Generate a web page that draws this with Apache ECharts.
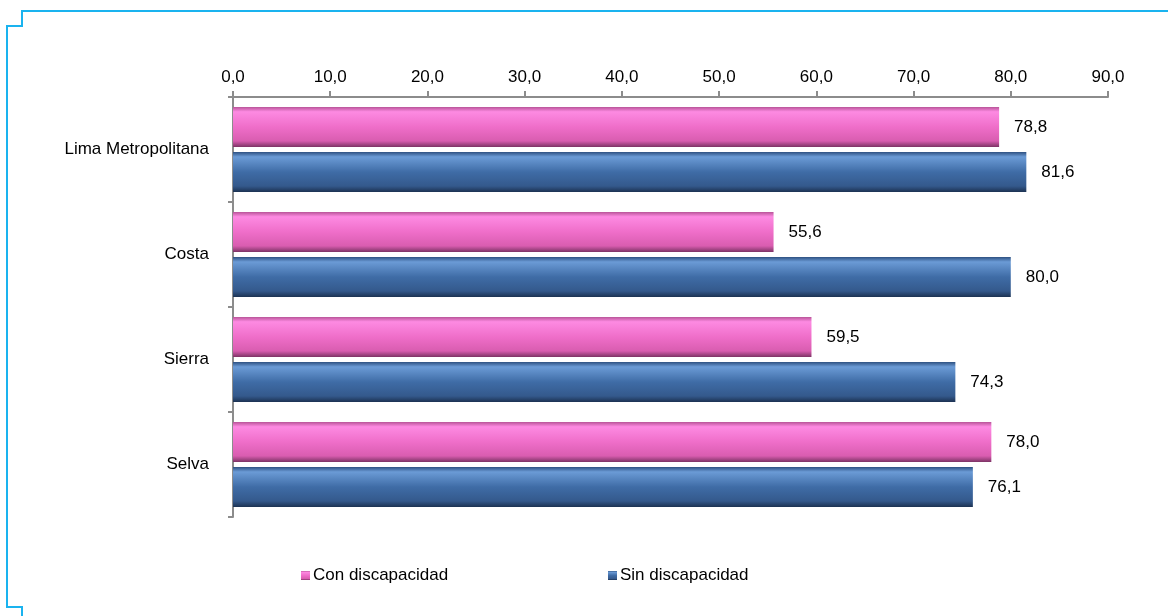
<!DOCTYPE html>
<html>
<head>
<meta charset="UTF-8">
<title>discapacidad_region</title>
<script src="https://cdn.jsdelivr.net/npm/echarts@6/dist/echarts.min.js"></script>
<style>
  html, body { margin: 0; padding: 0; background: #fff; }
  #main { width: 1168px; height: 616px; }
</style>
</head>
<body>
<div id="main"></div>
<script>
var regiones = ['Lima Metropolitana', 'Costa', 'Sierra', 'Selva'];
var conDiscapacidad = [78.8, 55.6, 59.5, 78.0];
var sinDiscapacidad = [81.6, 80.0, 74.3, 76.1];
var series1 = 'Con discapacidad';
var series2 = 'Sin discapacidad';

var fuente = "'Liberation Sans', Arial, sans-serif";
var tam = 17;

function coma(v) { return Number(v).toFixed(1).replace('.', ','); }

// degradado vertical para imitar el relieve de las barras
function relieve(c) {
  return new echarts.graphic.LinearGradient(0, 0, 0, 1, [
    { offset: 0, color: c[0] },
    { offset: 0.12, color: c[1] },
    { offset: 0.5, color: c[2] },
    { offset: 0.85, color: c[3] },
    { offset: 1, color: c[4] }
  ]);
}
var rosa = ['#b85498', '#fd8ae2', '#ef6ec9', '#d95db0', '#7e3466'];
var azul = ['#2f5283', '#6b9bd6', '#3f6ca6', '#34598c', '#1c3252'];

var myChart = echarts.init(document.getElementById('main'));
var option = {
  animation: false,
  textStyle: { fontFamily: fuente },
  grid: { left: 233, right: 60, top: 97, bottom: 99 },
  legend: [
    {
      data: [series1], left: 296, top: 562,
      icon: 'rect', itemWidth: 9, itemHeight: 9, itemGap: 3,
      textStyle: { fontFamily: fuente, fontSize: tam, color: '#000', padding: [0, 0, 0, -2] }
    },
    {
      data: [series2], left: 603, top: 562,
      icon: 'rect', itemWidth: 9, itemHeight: 9, itemGap: 3,
      textStyle: { fontFamily: fuente, fontSize: tam, color: '#000', padding: [0, 0, 0, -2] }
    }
  ],
  xAxis: {
    type: 'value', position: 'top',
    min: 0, max: 90, interval: 10,
    axisLine: { show: true, lineStyle: { color: '#8c8c8c', width: 2 } },
    axisTick: { show: true, length: 6, lineStyle: { color: '#8c8c8c', width: 2 } },
    axisLabel: { formatter: coma, fontFamily: fuente, fontSize: tam, color: '#000', margin: 11 },
    splitLine: { show: false }
  },
  yAxis: {
    type: 'category', inverse: true,
    data: regiones,
    axisLine: { show: true, lineStyle: { color: '#8c8c8c', width: 2 } },
    axisTick: { show: true, length: 5, lineStyle: { color: '#8c8c8c', width: 2 } },
    axisLabel: { fontFamily: fuente, fontSize: tam, color: '#000', margin: 24 }
  },
  series: [
    {
      name: series1, type: 'bar', data: conDiscapacidad,
      barGap: '13%', barCategoryGap: '19%',
      itemStyle: { color: relieve(rosa) },
      label: { show: true, position: 'right', distance: 15, formatter: function (p) { return coma(p.value); },
               fontFamily: fuente, fontSize: tam, color: '#000' }
    },
    {
      name: series2, type: 'bar', data: sinDiscapacidad,
      itemStyle: { color: relieve(azul) },
      label: { show: true, position: 'right', distance: 15, formatter: function (p) { return coma(p.value); },
               fontFamily: fuente, fontSize: tam, color: '#000' }
    }
  ],
  graphic: [
    {
      type: 'polyline', silent: true,
      shape: { points: [[1168, 11], [22, 11], [22, 26], [7, 26], [7, 607], [22, 607], [22, 616]] },
      style: { stroke: '#1ab3ef', lineWidth: 2, fill: null }
    }
  ]
};
myChart.setOption(option);
</script>
</body>
</html>
